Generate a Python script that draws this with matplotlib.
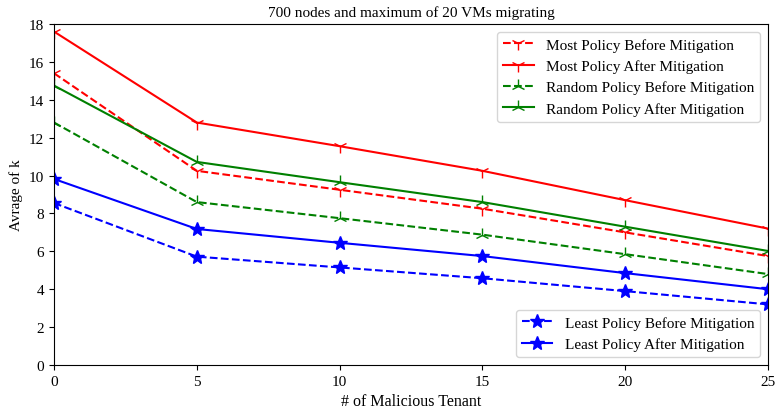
import numpy as np
import matplotlib
matplotlib.use('Agg')
import matplotlib.pyplot as plt

plt.rcParams['font.family'] = ['Liberation Serif', 'DejaVu Serif']
plt.rcParams['font.size'] = 11

tenants = [0, 5, 10, 15, 20, 25]

most_before = [15.4, 10.25, 9.25, 8.25, 7.0, 5.75]
most_after = [17.6, 12.8, 11.55, 10.25, 8.7, 7.2]
random_before = [12.8, 8.6, 7.75, 6.88, 5.85, 4.8]
random_after = [14.75, 10.72, 9.65, 8.6, 7.3, 6.02]
least_before = [8.55, 5.72, 5.15, 4.58, 3.9, 3.2]
least_after = [9.82, 7.18, 6.45, 5.75, 4.85, 4.0]

fig = plt.figure(figsize=(7.76, 4.10), dpi=100)
ax = fig.add_axes([54/776, 1 - 366/410, 714/776, 341/410])

l1, = ax.plot(tenants, most_before, 'r--', marker='1', markersize=10, label='Most Policy Before Mitigation')
l2, = ax.plot(tenants, most_after, 'r-', marker='1', markersize=10, label='Most Policy After Mitigation')
l3, = ax.plot(tenants, random_before, 'g--', marker='2', markersize=10, label='Random Policy Before Mitigation')
l4, = ax.plot(tenants, random_after, 'g-', marker='2', markersize=10, label='Random Policy After Mitigation')
l5, = ax.plot(tenants, least_before, 'b--', marker='*', markersize=10, label='Least Policy Before Mitigation')
l6, = ax.plot(tenants, least_after, 'b-', marker='*', markersize=10, label='Least Policy After Mitigation')

leg1 = ax.legend(handles=[l1, l2, l3, l4], loc='upper right')
ax.add_artist(leg1)
ax.legend(handles=[l5, l6], loc='lower right')

ax.set_xlim(0, 25)
ax.set_ylim(0, 18)
ax.set_xticks(tenants)
ax.set_yticks(np.arange(0, 19, 2))
ax.set_xlabel('# of Malicious Tenant', fontsize=11.5)
ax.set_ylabel('Avrage of k')
ax.set_title('700 nodes and maximum of 20 VMs migrating', fontsize=11)

plt.savefig('out.png', format='png', dpi=100)
